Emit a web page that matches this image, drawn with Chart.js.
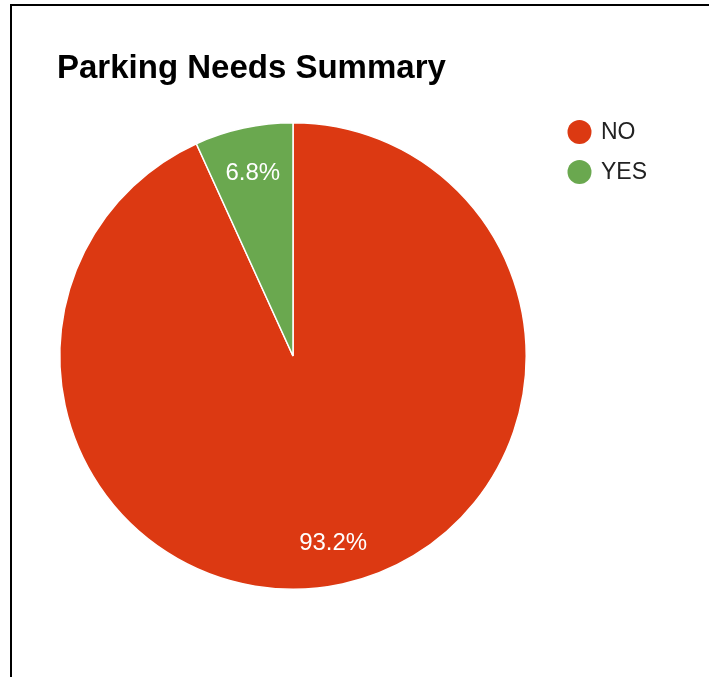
<!DOCTYPE html>
<html>
<head>
<meta charset="utf-8">
<title>Parking Needs Summary</title>
<script src="https://cdn.jsdelivr.net/npm/chart.js@4.4.1/dist/chart.umd.min.js"></script>
<style>
  html, body { margin: 0; padding: 0; background: #fff; }
  #wrap { position: relative; width: 709px; height: 677px; overflow: hidden; }
  #frame {
    position: absolute; left: 10px; top: 4px; right: -10px; bottom: -10px;
    border-left: 2px solid #000; border-top: 2px solid #000;
    pointer-events: none;
  }
  canvas { position: absolute; left: 0; top: 0; }
</style>
</head>
<body>
<div id="wrap">
  <canvas id="chart" width="709" height="677"></canvas>
  <div id="frame"></div>
</div>
<script>
// Survey answers and their shares (percent)
const categories = ['NO', 'YES'];
const shares = [93.2, 6.8];
const sliceColors = ['#dc3912', '#6aa84f'];
const chartTitle = 'Parking Needs Summary';

const FONT = '"Liberation Sans", Arial, Helvetica, sans-serif';

// Title, legend and in-slice percentage labels
const decorations = {
  id: 'decorations',
  afterDraw(chart) {
    const ctx = chart.ctx;
    ctx.save();

    // title
    ctx.fillStyle = '#000';
    ctx.font = 'bold 33px ' + FONT;
    ctx.textAlign = 'left';
    ctx.textBaseline = 'alphabetic';
    ctx.fillText(chartTitle, 57, 78);

    // legend
    const labels = chart.data.labels;
    const ds = chart.data.datasets[0];
    ctx.font = '23px ' + FONT;
    ctx.textBaseline = 'middle';
    labels.forEach((lab, i) => {
      const cy = 132 + i * 40;
      ctx.beginPath();
      ctx.arc(579.5, cy, 12, 0, Math.PI * 2);
      ctx.fillStyle = ds.backgroundColor[i];
      ctx.fill();
      ctx.fillStyle = '#222';
      ctx.fillText(lab, 601, cy + 1);
    });

    // percentage labels inside the slices
    const meta = chart.getDatasetMeta(0);
    ctx.font = '24px ' + FONT;
    ctx.textAlign = 'center';
    ctx.fillStyle = '#ffffff';
    meta.data.forEach((arc, i) => {
      const p = arc.getProps(['x', 'y', 'startAngle', 'endAngle', 'outerRadius'], true);
      const mid = (p.startAngle + p.endAngle) / 2;
      const r = p.outerRadius * 0.812;
      const x = p.x + Math.cos(mid) * r;
      const y = p.y + Math.sin(mid) * r + 2;
      ctx.fillText(ds.data[i].toFixed(1) + '%', x, y);
    });

    ctx.restore();
  }
};

new Chart(document.getElementById('chart'), {
  type: 'pie',
  data: {
    labels: categories,
    datasets: [{
      data: shares,
      backgroundColor: sliceColors,
      borderColor: '#ffffff',
      borderWidth: 1.5
    }]
  },
  options: {
    responsive: false,
    animation: false,
    layout: { padding: { left: 59, right: 182, top: 122, bottom: 87 } },
    plugins: {
      legend: { display: false },
      title: { display: false },
      tooltip: { enabled: false }
    }
  },
  plugins: [decorations]
});
</script>
</body>
</html>
